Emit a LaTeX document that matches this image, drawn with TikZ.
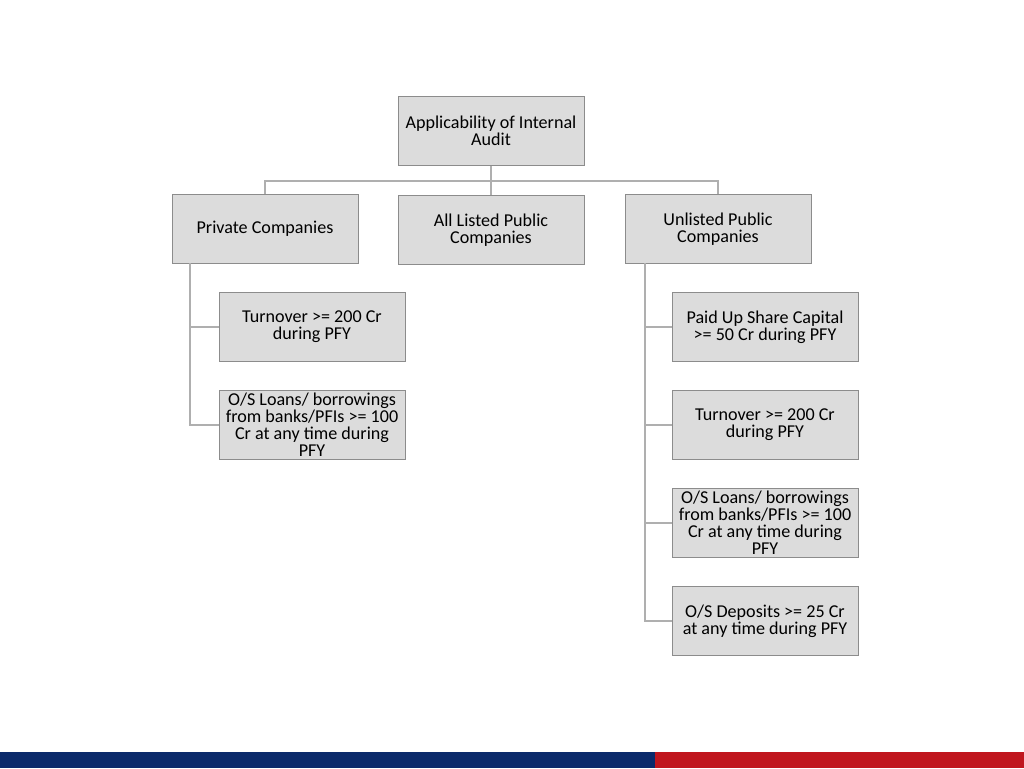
\documentclass[tikz,border=0pt]{standalone}
\usepackage{fontspec}
\setmainfont{Carlito}
\definecolor{boxfill}{HTML}{DCDCDC}
\definecolor{boxline}{HTML}{8C8C8C}
\definecolor{barblue}{HTML}{0B2A6B}
\definecolor{barred}{HTML}{C0161E}
\tikzset{
  box/.style={draw=boxline,fill=boxfill,minimum width=3.72cm,minimum height=1.38cm,
    align=center,font=\fontsize{10.3}{9.6}\selectfont,inner sep=0pt},
  link/.style={draw=boxline!70,line width=0.6pt}
}
\begin{document}
\begin{tikzpicture}[x=0.02cm,y=-0.02cm]
\useasboundingbox (0,0) rectangle (1024,768);
\fill[white] (0,0) rectangle (1024,768);

% Top level
\node[box] (root) at (491,131) {Applicability of Internal\\Audit};
\node[box] (priv) at (265,229) {Private Companies};
\node[box] (list) at (491,230) {All Listed Public\\Companies};
\node[box] (unl)  at (718,229) {Unlisted Public\\Companies};

% Private children
\node[box] (p1) at (312,327) {Turnover >= 200 Cr\\during PFY};
\node[box] (p2) at (312,425) {O/S Loans/ borrowings\\from banks/PFIs >= 100\\Cr at any time during\\PFY};

% Unlisted children
\node[box] (u1) at (765,327) {Paid Up Share Capital\\>= 50 Cr during PFY};
\node[box] (u2) at (765,425) {Turnover >= 200 Cr\\during PFY};
\node[box] (u3) at (765,523) {O/S Loans/ borrowings\\from banks/PFIs >= 100\\Cr at any time during\\PFY};
\node[box] (u4) at (765,621) {O/S Deposits >= 25 Cr\\at any time during PFY};

% Connectors
\coordinate (hub) at (491,181);
\draw[link] (root.south) -- (hub);
\draw[link] (priv.north) |- (hub) -| (unl.north);
\draw[link] (hub) -- (list.north);
\coordinate (pl) at (190,263);
\coordinate (ul) at (645,263);
\draw[link] (pl) |- (p2.west);
\draw[link] (pl |- p1.west) -- (p1.west);
\draw[link] (ul) |- (u4.west);
\foreach \n in {u1,u2,u3} \draw[link] (ul |- \n.west) -- (\n.west);

% Bottom bar
\fill[barblue] (0,752) rectangle (655,768);
\fill[barred] (655,752) rectangle (1024,768);
\end{tikzpicture}
\end{document}
